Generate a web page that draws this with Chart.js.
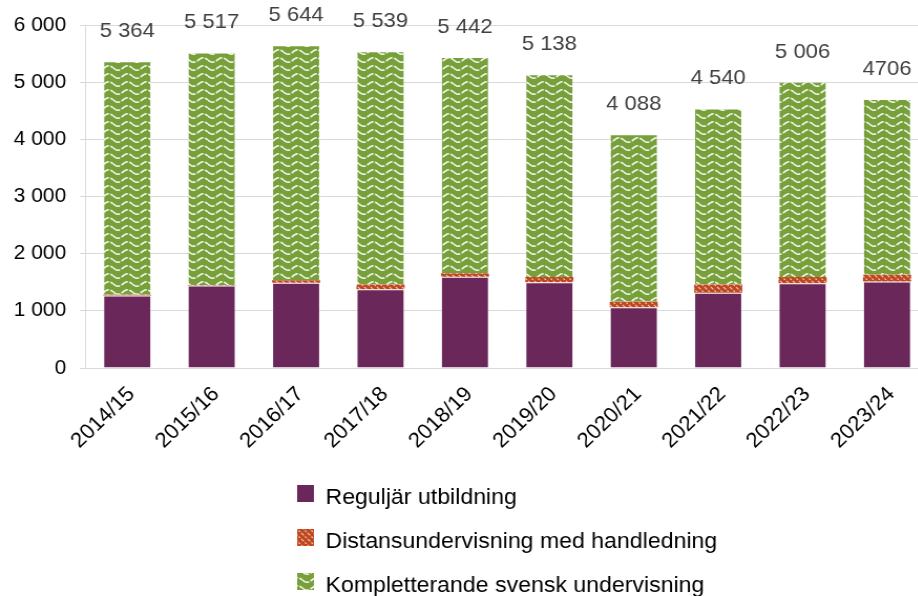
<!DOCTYPE html>
<html lang="sv">
<head>
<meta charset="utf-8">
<title>Elever per läsår</title>
<script src="https://cdn.jsdelivr.net/npm/chart.js@4.4.1/dist/chart.umd.min.js"></script>
<style>
  html, body { margin:0; padding:0; background:#fff; overflow:hidden; }
  /* the reference is slightly stretched horizontally */
  #wrap { width:885px; height:596px; transform:scaleX(1.05); transform-origin:0 0; }
</style>
</head>
<body>
<div id="wrap"><canvas id="grafico"></canvas></div>
<script>
const categorias = ['2014/15','2015/16','2016/17','2017/18','2018/19','2019/20','2020/21','2021/22','2022/23','2023/24'];
const reguljar   = [1268, 1444, 1491, 1379, 1596, 1502, 1062, 1315, 1484, 1514];
const distans    = [  15,   10,   45,   82,   63,   88,   95,  146,  106,  118];
const komplett   = [4081, 4063, 4108, 4078, 3783, 3548, 2931, 3079, 3416, 3074];
const totaler    = [5364, 5517, 5644, 5539, 5442, 5138, 4088, 4540, 5006, 4706];
const totalText  = ['5 364','5 517','5 644','5 539','5 442','5 138','4 088','4 540','5 006','4706'];
const yTicks     = [0, 1000, 2000, 3000, 4000, 5000, 6000];
const serieNamn  = ['Reguljär utbildning','Distansundervisning med handledning','Kompletterande svensk undervisning'];

const FONT = '"Liberation Sans", Arial, sans-serif';
Chart.defaults.font.family = FONT;
Chart.defaults.font.size = 20;
Chart.defaults.color = '#000';

//=========================patterns============================
function patronOnda(ctx){
  const t = document.createElement('canvas');
  t.width = 18; t.height = 8;
  const c = t.getContext('2d');
  c.fillStyle = '#77a03a';
  c.fillRect(0,0,18,8);
  c.strokeStyle = 'rgba(255,255,255,0.9)';
  c.lineWidth = 1.6;
  c.setLineDash([7,1.5]);
  c.beginPath();
  for(let x=0;x<=18;x+=0.5){
    const y = 4 + 2.2*Math.sin(2*Math.PI*x/18);
    if(x===0) c.moveTo(x,y); else c.lineTo(x,y);
  }
  c.stroke();
  return ctx.createPattern(t,'repeat');
}

function patronDiagonal(ctx){
  const t = document.createElement('canvas');
  t.width = 6; t.height = 6;
  const c = t.getContext('2d');
  c.fillStyle = '#c0461e';
  c.fillRect(0,0,6,6);
  c.strokeStyle = 'rgba(255,255,255,0.7)';
  c.lineWidth = 1.2;
  c.setLineDash([2,1.5]);
  c.beginPath();
  c.moveTo(0,0); c.lineTo(6,6);
  c.moveTo(-3,3); c.lineTo(3,9);
  c.moveTo(3,-3); c.lineTo(9,3);
  c.stroke();
  return ctx.createPattern(t,'repeat');
}

//=========================plugins============================
const pluginTotales = {
  id: 'totales',
  afterDatasetsDraw(chart){
    const {ctx, scales:{x, y}} = chart;
    ctx.save();
    ctx.font = '21px ' + FONT;
    ctx.fillStyle = '#404040';
    ctx.textAlign = 'center';
    ctx.textBaseline = 'middle';
    totaler.forEach((v,i)=>{
      ctx.fillText(totalText[i], x.getPixelForValue(i), y.getPixelForValue(v) - 30);
    });
    ctx.restore();
  }
};

const pluginLeyenda = {
  id: 'leyenda',
  afterDraw(chart){
    const {ctx, chartArea} = chart;
    ctx.save();
    ctx.font = '22px ' + FONT;
    const anchoTexto = Math.max(...chart.data.datasets.map(d=>ctx.measureText(d.label).width));
    const caja = 16, hueco = 11;
    const izq = (chartArea.left + chartArea.right)/2 - (caja + hueco + anchoTexto)/2;
    chart.data.datasets.forEach((d,i)=>{
      const yc = chartArea.bottom + 130 + i*44;
      ctx.fillStyle = d.backgroundColor;
      ctx.fillRect(izq, yc - 13, caja, 17);
      ctx.fillStyle = '#000';
      ctx.textAlign = 'left';
      ctx.textBaseline = 'middle';
      ctx.fillText(d.label, izq + caja + hueco, yc);
    });
    ctx.restore();
  }
};

//=========================chart============================
const canvas = document.getElementById('grafico');
const ctx2d = canvas.getContext('2d');

new Chart(canvas, {
  type: 'bar',
  data: {
    labels: categorias,
    datasets: [
      { label: serieNamn[0], data: reguljar, backgroundColor: '#69275a', borderColor: 'rgba(255,255,255,0.35)', borderWidth: 1 },
      { label: serieNamn[1], data: distans,  backgroundColor: patronDiagonal(ctx2d), borderWidth: 0 },
      { label: serieNamn[2], data: komplett, backgroundColor: patronOnda(ctx2d), borderColor: 'rgba(255,255,255,0.35)', borderWidth: 1 }
    ]
  },
  options: {
    responsive: true,
    maintainAspectRatio: false,
    animation: false,
    barPercentage: 0.57,
    categoryPercentage: 1,
    layout: { padding: { left: 12, right: 0, top: 24, bottom: 148 } },
    plugins: {
      legend: { display: false },
      tooltip: { enabled: false }
    },
    scales: {
      x: {
        stacked: true,
        grid: { drawOnChartArea: false, drawTicks: false },
        border: { color: '#d9d9d9', width: 1 },
        ticks: { maxRotation: 45, minRotation: 45, autoSkip: false, padding: 14, color: '#000', labelOffset: 4, font: { size: 21 } },
        afterFit(scale){ scale.height = 80; }
      },
      y: {
        stacked: true,
        min: 0,
        max: 6000,
        grid: { color: '#d9d9d9', lineWidth: 1, tickLength: 5 },
        border: { color: '#d9d9d9', width: 1 },
        afterBuildTicks(scale){ scale.ticks = yTicks.map(v=>({value:v})); },
        afterFit(scale){ scale.width = 69; },
        ticks: {
          padding: 13,
          color: '#000',
          callback: v => v === 0 ? '0' : (v/1000) + ' 000'
        }
      }
    }
  },
  plugins: [pluginTotales, pluginLeyenda]
});
</script>
</body>
</html>
